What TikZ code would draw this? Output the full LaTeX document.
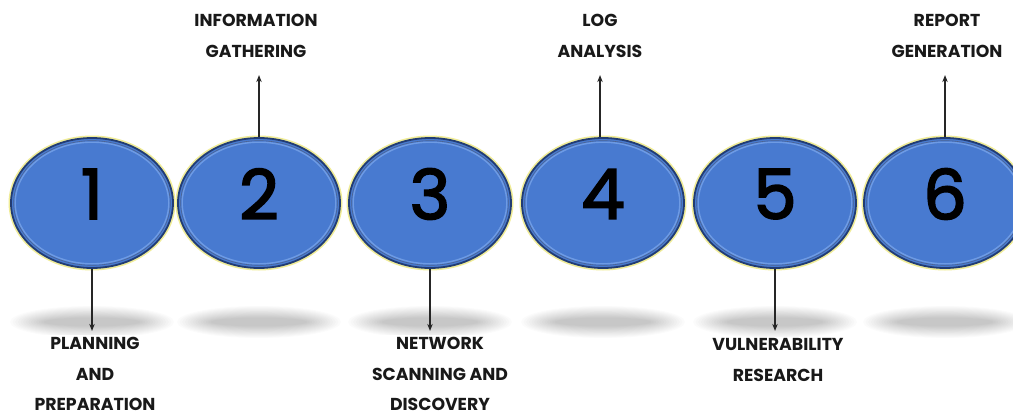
\documentclass[tikz,border=0pt]{standalone}
\usepackage{fontspec}
\setmainfont{Poppins}
\usetikzlibrary{shapes.geometric,arrows.meta}
\definecolor{ballblue}{RGB}{72,122,208}
\definecolor{balledge}{RGB}{34,60,115}
\definecolor{ballring}{RGB}{110,155,228}
\definecolor{ballglow}{RGB}{240,236,150}
\begin{document}
\begin{tikzpicture}[x=1pt,y=-1pt,
  ball/.style={ellipse,minimum width=162pt,minimum height=130pt,inner sep=0pt,
    fill=ballblue,draw=balledge,line width=1.8pt},
  digit/.style={font=\fontsize{69}{69}\selectfont\addfontfeature{FakeBold=2.5},text=black,inner sep=0pt},
  lbl/.style={font=\bfseries\fontsize{17.3}{30.5}\selectfont,align=center,text=black!90,
    fill=white,minimum width=156pt,inner sep=2pt},
  conn/.style={line width=1.1pt,black!85,-{Stealth[length=7pt,width=5.5pt]}}]
\useasboundingbox (0,0) rectangle (1013,415);
\fill[white] (0,0) rectangle (1013,415);
\begin{scope}
\clip (0,0) rectangle (1013,415);
% shadows
\foreach \cx in {92,259,430,603,775,945}{
  \foreach \k in {0,...,13}{
    \fill[black,opacity=0.016] (\cx,322) ellipse [x radius={82pt-\k*2.6pt}, y radius={16pt-\k*0.9pt}];
  }
}
% balls
\foreach \cx/\n in {92/1,259/2,430/3,603/4,775/5,945/6}{
  \fill[ballglow] (\cx,203) ellipse [x radius=83.5pt, y radius=67.5pt];
  \node[ball] (e\n) at (\cx,203) {};
  \draw[balledge!80,line width=0.6pt] (\cx,203) ellipse [x radius=78.3pt, y radius=62.3pt];
  \draw[ballring,line width=1.4pt] (\cx,203) ellipse [x radius=76.8pt, y radius=60.8pt];
  \node[digit] (d\n) at ([yshift=9pt]e\n.center) {\n};
}
\end{scope}
% labels
\node[lbl] (l1) at (95,374) {PLANNING\\AND\\PREPARATION};
\node[lbl] (l2) at (256,36) {INFORMATION\\GATHERING};
\node[lbl] (l3) at (440,374) {NETWORK\\SCANNING AND\\DISCOVERY};
\node[lbl] (l4) at (600,36) {LOG\\ANALYSIS};
\node[lbl] (l5) at (778,360) {VULNERABILITY\\RESEARCH};
\node[lbl,minimum width=0pt] (l6) at (947,36) {REPORT\\GENERATION};
% connectors
\draw[conn] (e1.south) -- ++(0,62);
\draw[conn] (e3.south) -- ++(0,62);
\draw[conn] (e5.south) -- ++(0,62);
\draw[conn] (e2.north) -- ++(0,-62);
\draw[conn] ([xshift=-3pt]e4.north) -- ++(0,-62);
\draw[conn] (e6.north) -- ++(0,-62);
\end{tikzpicture}
\end{document}
